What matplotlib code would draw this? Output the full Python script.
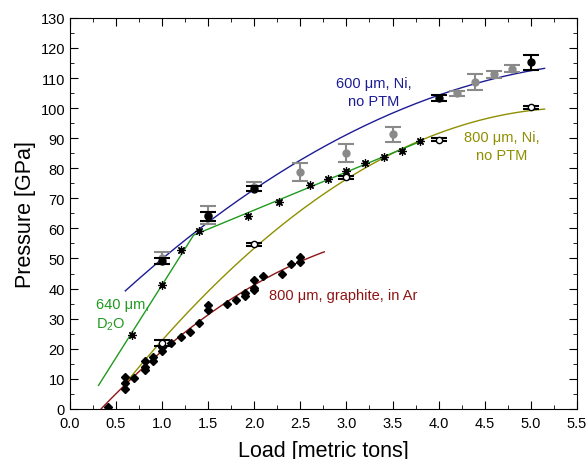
import numpy as np
import matplotlib
matplotlib.use("Agg")
import matplotlib.pyplot as plt
from matplotlib.ticker import MultipleLocator, FormatStrFormatter

plt.rcParams['font.family'] = ['Liberation Sans', 'DejaVu Sans']
plt.rcParams['mathtext.default'] = 'regular'

# 600 um, Ni, no PTM - black points
ni600_x = [1.0, 1.5, 2.0, 4.0, 5.0]
ni600_y = [49.0, 64.0, 73.2, 103.4, 115.3]
ni600_err = [1.0, 1.4, 0.8, 1.0, 2.5]

# 600 um, Ni, no PTM - grey points
ni600g_x = [1.0, 1.5, 2.0, 2.5, 3.0, 3.5, 4.2, 4.4, 4.6, 4.8]
ni600g_y = [50.0, 64.5, 73.8, 78.6, 85.2, 91.3, 104.9, 108.7, 111.2, 113.1]
ni600g_err = [2.0, 3.0, 1.5, 3.0, 3.0, 2.5, 0.8, 2.8, 1.2, 1.2]

# 800 um, Ni, no PTM - open circles
ni800_x = [1.0, 2.0, 3.0, 4.0, 5.0]
ni800_y = [22.0, 54.8, 77.0, 89.4, 100.2]
ni800_err = [1.0, 0.5, 0.5, 0.5, 0.5]

# 640 um, D2O - asterisks
d2o_x = [0.67, 1.0, 1.2, 1.4, 1.93, 2.27, 2.6, 2.8, 3.0, 3.2, 3.41, 3.6, 3.8]
d2o_y = [24.7, 41.3, 52.8, 59.2, 64.1, 68.9, 74.4, 76.3, 79.1, 81.7, 83.9, 85.8, 88.9]

# 800 um, graphite, in Ar - diamonds
gr_x = [0.41, 0.6, 0.6, 0.6, 0.7, 0.81, 0.81, 0.81, 0.9, 0.9, 1.0, 1.0, 1.1, 1.2,
        1.3, 1.4, 1.5, 1.5, 1.7, 1.8, 1.9, 1.9, 2.0, 2.0, 2.0, 2.1, 2.3, 2.4, 2.5, 2.5]
gr_y = [0.6, 10.6, 8.6, 6.7, 10.3, 15.8, 13.9, 12.8, 17.4, 15.9, 20.6, 19.1, 21.9, 23.9,
        25.6, 28.7, 34.4, 32.8, 34.7, 36.1, 38.6, 37.6, 43.0, 40.2, 39.6, 44.2, 45.0, 48.3, 50.5, 48.7]

blue = '#1c1c96'
olive = '#8f8f00'
green = '#1f9a1f'
darkred = '#8e1414'
grey = '#8a8a8a'

fig = plt.figure(figsize=(5.88, 4.6), dpi=100)
ax = fig.add_axes([0.119, 0.109, 0.862, 0.85])

# fitted curves
xs = np.linspace(0.6, 5.15, 200)
p = np.polyfit(ni600_x, ni600_y, 2, w=1.0 / np.array(ni600_err))
ax.plot(xs, np.polyval(p, xs), color=blue, lw=1.0, zorder=2)

p = np.polyfit(ni800_x, ni800_y, 2)
ax.plot(xs, np.polyval(p, xs), color=olive, lw=1.0, zorder=2)

xr = np.linspace(0.34, 2.76, 200)
p = np.polyfit(gr_x, gr_y, 2)
ax.plot(xr, np.polyval(p, xr), color=darkred, lw=1.0, zorder=2)

# two straight pieces for D2O
dx = np.array(d2o_x)
dy = np.array(d2o_y)
m1 = np.polyfit(dx[dx <= 1.4], dy[dx <= 1.4], 1)
m2 = np.polyfit(dx[dx >= 1.4], dy[dx >= 1.4], 1)
xk = (m2[1] - m1[1]) / (m1[0] - m2[0])
ax.plot([0.31, xk, 3.83], [np.polyval(m1, 0.31), np.polyval(m1, xk), np.polyval(m2, 3.83)],
        color=green, lw=1.0, zorder=2)

# markers
ax.errorbar(ni600g_x, ni600g_y, yerr=ni600g_err, fmt='o', color=grey, ms=5,
            capsize=6, elinewidth=1.5, capthick=1.5, zorder=3)
ax.errorbar(ni600_x, ni600_y, yerr=ni600_err, fmt='o', color='black', ms=5,
            capsize=6, elinewidth=1.5, capthick=1.5, zorder=4)
ax.errorbar(ni800_x, ni800_y, yerr=ni800_err, fmt='o', mfc='white', mec='black',
            color='black', ms=4.5, capsize=6, elinewidth=1.5, capthick=1.5, zorder=4)
ax.plot(d2o_x, d2o_y, ls='none', marker=(8, 2, 0), ms=6, color='black', mew=0.9, zorder=4)
ax.plot(gr_x, gr_y, ls='none', marker='D', ms=4.2, color='black', zorder=4)

# labels
ax.text(3.3, 105.3, '600 μm, Ni,\nno PTM', color=blue, fontsize=10.5, ha='center',
        va='center', linespacing=1.35)
ax.text(4.69, 87.3, '800 μm, Ni,\nno PTM', color=olive, fontsize=10.5, ha='center',
        va='center', linespacing=1.35)
ax.text(0.28, 31.3, '640 μm,\nD$_2$O', color=green, fontsize=10.5, ha='left',
        va='center', linespacing=1.35)
ax.text(2.16, 38, '800 μm, graphite, in Ar', color=darkred, fontsize=10.5,
        ha='left', va='center')

ax.set_xlim(0, 5.5)
ax.set_ylim(0, 130)
ax.xaxis.set_major_locator(MultipleLocator(0.5))
ax.xaxis.set_minor_locator(MultipleLocator(0.25))
ax.xaxis.set_major_formatter(FormatStrFormatter('%.1f'))
ax.yaxis.set_major_locator(MultipleLocator(10))
ax.yaxis.set_minor_locator(MultipleLocator(5))
ax.tick_params(which='both', direction='in', top=True, right=True, labelsize=10.5)
ax.tick_params(which='major', length=6)
ax.tick_params(which='minor', length=3)
ax.tick_params(axis='x', pad=5)
ax.set_xlabel('Load [metric tons]', fontsize=15.5, labelpad=7)
ax.set_ylabel('Pressure [GPa]', fontsize=15.5, labelpad=3)

fig.savefig('out.png', dpi=100)
